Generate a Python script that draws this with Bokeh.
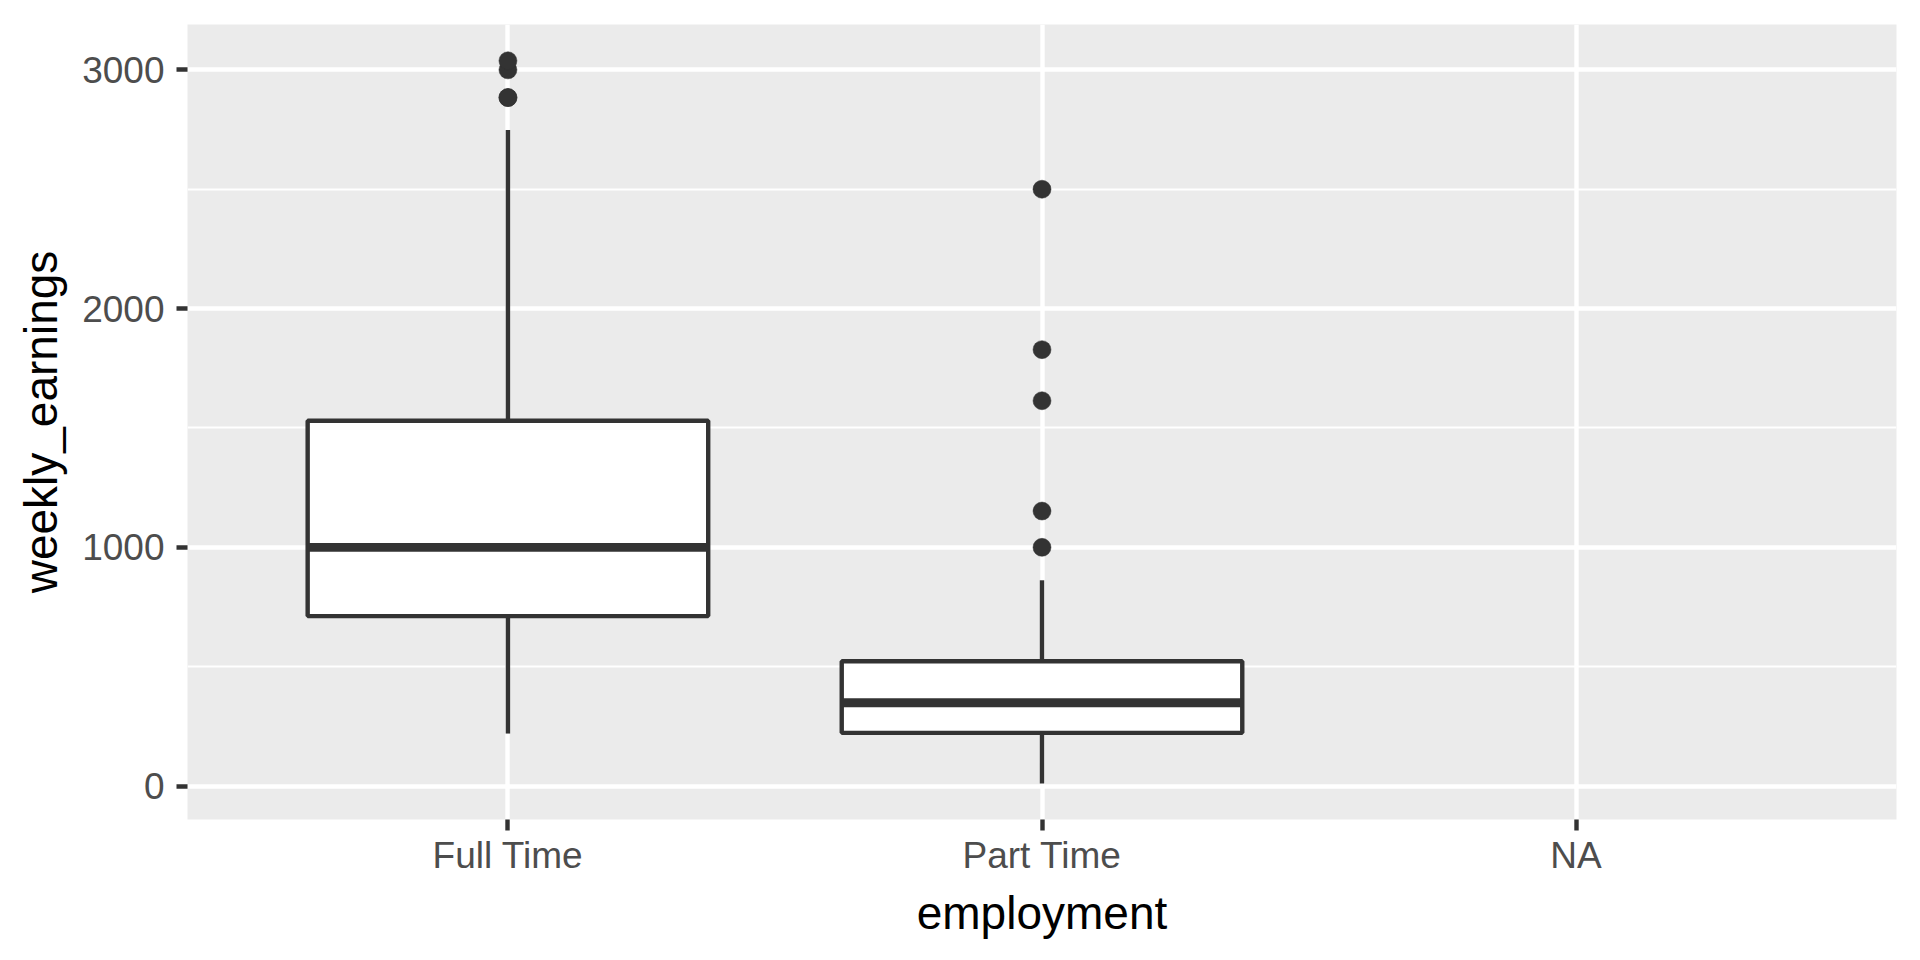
from bokeh.plotting import figure
from bokeh.models import FactorRange, Range1d, FixedTicker, ColumnDataSource
from bokeh.transform import dodge
from bokeh.embed import file_html
from bokeh.resources import INLINE

# ---- data ----
categories = ["Full Time", "Part Time", "NA"]
box_cats = ["Full Time", "Part Time"]
lower_whisker = [220, 11]
q1 = [712, 223]
median = [1000, 349]
q3 = [1530, 523]
upper_whisker = [2748, 862]
outlier_cats = ["Full Time", "Full Time", "Full Time", "Full Time",
                "Part Time", "Part Time", "Part Time", "Part Time", "Part Time"]
outlier_vals = [2884, 2884, 3000, 3038, 1000, 1152, 1614, 1828, 2500]
y_ticks = [0, 1000, 2000, 3000]
y_minor = [500, 1500, 2500]

FONT = "Liberation Sans"
DARK = "#333333"

p = figure(
    width=1904, height=944,
    x_range=FactorRange(factors=categories, range_padding=0.1, range_padding_units="absolute"),
    y_range=Range1d(-140, 3190),
    output_backend="svg", toolbar_location=None,
    min_border_left=187, min_border_right=8, min_border_top=24, min_border_bottom=125,
)
p.background_fill_color = "#EBEBEB"
p.border_fill_color = "white"
p.outline_line_color = None

# grid
p.xgrid.grid_line_color = "white"
p.xgrid.grid_line_width = 4.4
p.ygrid.grid_line_color = "white"
p.ygrid.grid_line_width = 4.4
p.ygrid.minor_grid_line_color = "white"
p.ygrid.minor_grid_line_width = 2.2

p.yaxis.ticker = FixedTicker(ticks=y_ticks, minor_ticks=y_minor)

for ax in (p.xaxis, p.yaxis):
    ax.axis_line_color = None
    ax.major_tick_line_color = DARK
    ax.major_tick_line_width = 4.4
    ax.major_tick_out = 11
    ax.major_tick_in = 0
    ax.minor_tick_line_color = None
    ax.major_label_text_font = FONT
    ax.major_label_text_font_size = "37px"
    ax.major_label_text_color = "#4D4D4D"
    ax.axis_label_text_font = FONT
    ax.axis_label_text_font_size = "46px"
    ax.axis_label_text_font_style = "normal"
    ax.axis_label_text_color = "black"

p.xaxis.axis_label = "employment"
p.yaxis.axis_label = "weekly_earnings"
p.xaxis.major_label_standoff = 4
p.yaxis.major_label_standoff = 12
p.xaxis.axis_label_standoff = 8
p.yaxis.axis_label_standoff = 12

src = ColumnDataSource(dict(cat=box_cats, lo=lower_whisker, q1=q1, med=median, q3=q3, hi=upper_whisker))

# whiskers
p.segment(x0="cat", x1="cat", y0="q3", y1="hi", source=src, line_color=DARK, line_width=4.4)
p.segment(x0="cat", x1="cat", y0="q1", y1="lo", source=src, line_color=DARK, line_width=4.4)
# boxes
p.vbar(x="cat", width=0.75, bottom="q1", top="q3", source=src,
       fill_color="white", line_color=DARK, line_width=4.4)
# medians
p.segment(x0=dodge("cat", -0.375, range=p.x_range), x1=dodge("cat", 0.375, range=p.x_range),
          y0="med", y1="med", source=src, line_color=DARK, line_width=8.8, line_cap="butt")
# outliers
p.scatter(x=outlier_cats, y=outlier_vals, size=18, fill_color=DARK, line_color=DARK, line_width=0.5)

open("out.html", "w").write(file_html(p, INLINE))
